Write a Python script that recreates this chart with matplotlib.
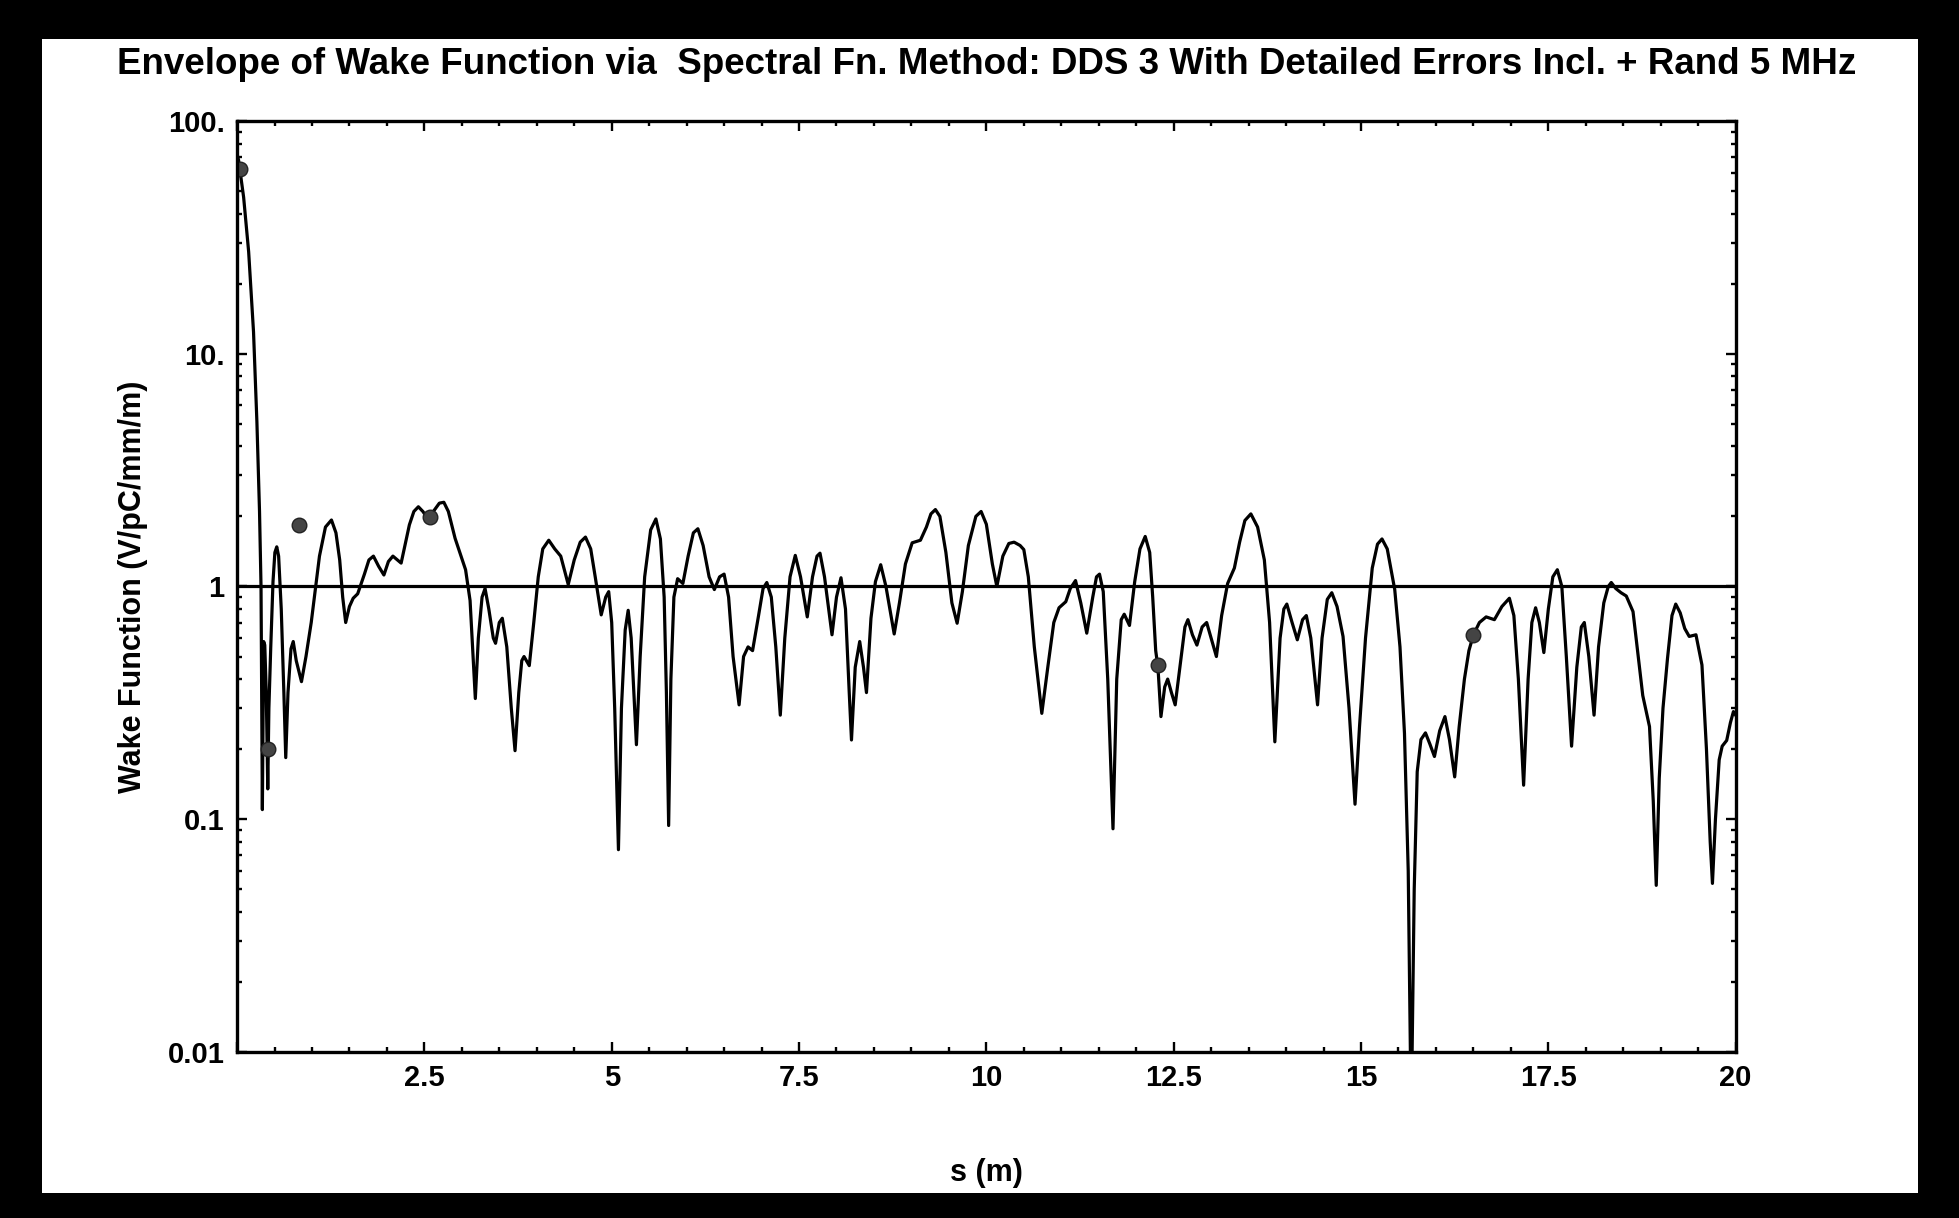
import matplotlib
matplotlib.use("Agg")
import matplotlib.pyplot as plt
from matplotlib.patches import Rectangle

plt.rcParams['font.family'] = ['Liberation Sans', 'DejaVu Sans']
plt.rcParams['font.weight'] = 'bold'

# envelope of the wake function
s_m = [0.0, 0.02, 0.088, 0.155, 0.22, 0.265, 0.30, 0.32, 0.338, 0.355, 0.37, 0.39,
       0.41, 0.425, 0.45, 0.48, 0.505, 0.53, 0.555, 0.59, 0.625, 0.65, 0.68, 0.72,
       0.75, 0.79, 0.86, 0.92, 0.99, 1.05, 1.10, 1.18, 1.26, 1.32, 1.37, 1.41,
       1.45, 1.50, 1.55, 1.61, 1.70, 1.76, 1.82, 1.89, 1.96, 2.02, 2.08, 2.14,
       2.19, 2.24, 2.30, 2.36, 2.42, 2.48, 2.54, 2.62, 2.70, 2.76, 2.82, 2.91,
       3.05, 3.11, 3.15, 3.18, 3.22, 3.27, 3.31, 3.36, 3.42, 3.45, 3.50, 3.54,
       3.60, 3.66, 3.71, 3.76, 3.80, 3.83, 3.90, 3.96, 4.02, 4.08, 4.16, 4.24,
       4.32, 4.42, 4.50, 4.58, 4.65, 4.72, 4.78, 4.86, 4.92, 4.96, 5.00, 5.04,
       5.09, 5.13, 5.18, 5.22, 5.26, 5.33, 5.38, 5.44, 5.52, 5.59, 5.65, 5.70,
       5.73, 5.76, 5.79, 5.83, 5.88, 5.95, 6.02, 6.09, 6.15, 6.22, 6.30, 6.37,
       6.44, 6.50, 6.56, 6.62, 6.70, 6.76, 6.82, 6.88, 6.96, 7.02, 7.07, 7.13,
       7.19, 7.25, 7.31, 7.38, 7.45, 7.52, 7.61, 7.68, 7.74, 7.78, 7.84, 7.94,
       8.00, 8.06, 8.12, 8.17, 8.20, 8.25, 8.31, 8.36, 8.40, 8.46, 8.52, 8.59,
       8.66, 8.77, 8.84, 8.92, 9.01, 9.12, 9.20, 9.26, 9.32, 9.38, 9.46, 9.54,
       9.61, 9.68, 9.76, 9.86, 9.93, 10.00, 10.08, 10.14, 10.22, 10.30, 10.37,
       10.45, 10.50, 10.56, 10.64, 10.74, 10.82, 10.90, 10.97, 11.06, 11.12,
       11.19, 11.26, 11.34, 11.42, 11.47, 11.51, 11.56, 11.62, 11.69, 11.74,
       11.80, 11.84, 11.91, 11.98, 12.05, 12.12, 12.18, 12.22, 12.26, 12.29,
       12.33, 12.38, 12.42, 12.47, 12.52, 12.60, 12.65, 12.69, 12.75, 12.81,
       12.88, 12.94, 13.00, 13.07, 13.14, 13.22, 13.31, 13.38, 13.45, 13.53,
       13.62, 13.71, 13.78, 13.85, 13.92, 13.97, 14.01, 14.08, 14.15, 14.22,
       14.27, 14.33, 14.42, 14.48, 14.55, 14.61, 14.68, 14.76, 14.84, 14.92,
       14.98, 15.06, 15.15, 15.22, 15.28, 15.35, 15.45, 15.52, 15.58, 15.63,
       15.67, 15.71, 15.75, 15.80, 15.86, 15.92, 15.98, 16.05, 16.12, 16.18,
       16.25, 16.31, 16.38, 16.44, 16.50, 16.58, 16.67, 16.78, 16.88, 16.98,
       17.04, 17.10, 17.17, 17.23, 17.28, 17.33, 17.38, 17.44, 17.50, 17.56,
       17.62, 17.68, 17.74, 17.81, 17.88, 17.94, 17.98, 18.04, 18.11, 18.17,
       18.24, 18.30, 18.34, 18.40, 18.47, 18.54, 18.63, 18.70, 18.76, 18.85,
       18.90, 18.94, 18.98, 19.03, 19.09, 19.15, 19.20, 19.26, 19.32, 19.38,
       19.47, 19.55, 19.61, 19.66, 19.69, 19.73, 19.78, 19.82, 19.88, 19.93,
       19.97, 20.0]
wake = [72, 68, 47, 27.4, 12.4, 5.1, 2.1, 1.0, 0.11, 0.58, 0.56, 0.35,
        0.135, 0.3, 0.55, 1.05, 1.4, 1.48, 1.35, 0.8, 0.35, 0.184, 0.35, 0.54,
        0.58, 0.48, 0.39, 0.5, 0.70, 1.0, 1.35, 1.8, 1.93, 1.7, 1.3, 0.9,
        0.70, 0.82, 0.89, 0.93, 1.13, 1.3, 1.35, 1.22, 1.12, 1.28, 1.35, 1.3,
        1.26, 1.5, 1.84, 2.1, 2.2, 2.1, 1.97, 2.1, 2.28, 2.30, 2.1, 1.61,
        1.18, 0.87, 0.5, 0.33, 0.6, 0.9, 0.98, 0.8, 0.6, 0.57, 0.7, 0.73,
        0.55, 0.3, 0.197, 0.35, 0.48, 0.50, 0.457, 0.7, 1.1, 1.45, 1.58, 1.45,
        1.35, 1.02, 1.3, 1.55, 1.63, 1.45, 1.10, 0.755, 0.9, 0.95, 0.7, 0.3,
        0.074, 0.3, 0.65, 0.79, 0.6, 0.209, 0.5, 1.1, 1.75, 1.95, 1.6, 0.9,
        0.35, 0.094, 0.4, 0.9, 1.08, 1.03, 1.35, 1.7, 1.77, 1.5, 1.1, 0.97,
        1.1, 1.13, 0.9, 0.5, 0.31, 0.5, 0.55, 0.53, 0.75, 0.98, 1.04, 0.9,
        0.55, 0.28, 0.6, 1.1, 1.36, 1.1, 0.74, 1.1, 1.35, 1.39, 1.1, 0.62,
        0.9, 1.09, 0.8, 0.35, 0.219, 0.45, 0.58, 0.45, 0.35, 0.73, 1.05, 1.24,
        1.0, 0.625, 0.85, 1.25, 1.54, 1.58, 1.8, 2.05, 2.14, 2.0, 1.4, 0.85,
        0.695, 0.95, 1.5, 2.0, 2.10, 1.85, 1.25, 1.0, 1.35, 1.53, 1.55,
        1.5, 1.44, 1.1, 0.55, 0.285, 0.45, 0.7, 0.81, 0.86, 0.98,
        1.06, 0.85, 0.63, 0.9, 1.1, 1.13, 0.95, 0.4, 0.091, 0.4,
        0.72, 0.76, 0.68, 1.05, 1.45, 1.64, 1.4, 0.9, 0.53, 0.45,
        0.276, 0.37, 0.40, 0.35, 0.31, 0.5, 0.67, 0.72, 0.62, 0.56,
        0.67, 0.70, 0.6, 0.50, 0.75, 1.03, 1.2, 1.55, 1.92, 2.05,
        1.8, 1.30, 0.7, 0.215, 0.6, 0.8, 0.84, 0.7, 0.59, 0.72,
        0.75, 0.6, 0.31, 0.6, 0.88, 0.94, 0.82, 0.61, 0.3, 0.116,
        0.25, 0.6, 1.2, 1.52, 1.60, 1.45, 0.97, 0.55, 0.234, 0.06,
        0.005, 0.05, 0.16, 0.22, 0.235, 0.21, 0.186, 0.24, 0.276, 0.22,
        0.152, 0.25, 0.40, 0.53, 0.62, 0.70, 0.74, 0.72, 0.82, 0.89,
        0.75, 0.4, 0.14, 0.4, 0.7, 0.81, 0.7, 0.52, 0.8, 1.1,
        1.18, 1.0, 0.5, 0.206, 0.45, 0.67, 0.70, 0.5, 0.28, 0.55,
        0.85, 1.0, 1.04, 0.98, 0.94, 0.91, 0.78, 0.5, 0.34, 0.25,
        0.12, 0.052, 0.15, 0.3, 0.49, 0.75, 0.84, 0.77, 0.66, 0.61,
        0.62, 0.46, 0.2, 0.08, 0.053, 0.1, 0.18, 0.206, 0.218, 0.26,
        0.29, 0.28]

# highlighted points
dot_s = [0.04, 0.41, 0.83, 2.58, 12.29, 16.50]
dot_w = [62, 0.20, 1.84, 1.99, 0.46, 0.62]

x_ticks = [0, 2.5, 5, 7.5, 10, 12.5, 15, 17.5, 20]
x_labels = ["", "2.5", "5", "7.5", "10", "12.5", "15", "17.5", "20"]
y_ticks = [0.01, 0.1, 1, 10, 100]
y_labels = ["0.01", "0.1", "1", "10.", "100."]

fig = plt.figure(figsize=(19.59, 12.18), dpi=100, facecolor='black')
# white sheet inside the black frame
fig.patches.append(Rectangle((0.0214, 0.0205), 0.9576, 0.9475,
                             transform=fig.transFigure, facecolor='white',
                             edgecolor='none', zorder=-1))

ax = fig.add_axes([0.121, 0.1363, 0.765, 0.7644])
ax.set_yscale('log')
ax.plot(s_m, wake, color='black', lw=2.3, solid_joinstyle='round')
ax.axhline(1.0, color='black', lw=2.3)
ax.plot(dot_s, dot_w, 'o', ms=10.5, mfc='#444444', mec='#222222', mew=1)

ax.set_xlim(0, 20)
ax.set_ylim(0.01, 100)
ax.set_xticks(x_ticks)
ax.set_xticklabels(x_labels)
ax.set_xticks([i * 0.5 for i in range(41)], minor=True)
ax.set_yticks(y_ticks)
ax.set_yticklabels(y_labels)

ax.tick_params(which='both', direction='in', top=True, right=True,
               labelsize=21, width=1.7)
ax.tick_params(which='major', length=7.5, pad=9)
ax.tick_params(which='minor', length=3.8, labelleft=False)
for sp in ax.spines.values():
    sp.set_linewidth(2.4)

ax.set_title("Envelope of Wake Function via  Spectral Fn. Method: DDS 3 With Detailed Errors Incl. + Rand 5 MHz",
             fontsize=26.5, fontweight='bold', pad=34)
ax.set_xlabel("s (m)", fontsize=22, fontweight='bold', labelpad=47)
ax.set_ylabel("Wake Function (V/pC/mm/m)", fontsize=22, fontweight='bold', labelpad=14)

fig.savefig("out.png", dpi=100, facecolor='black')
